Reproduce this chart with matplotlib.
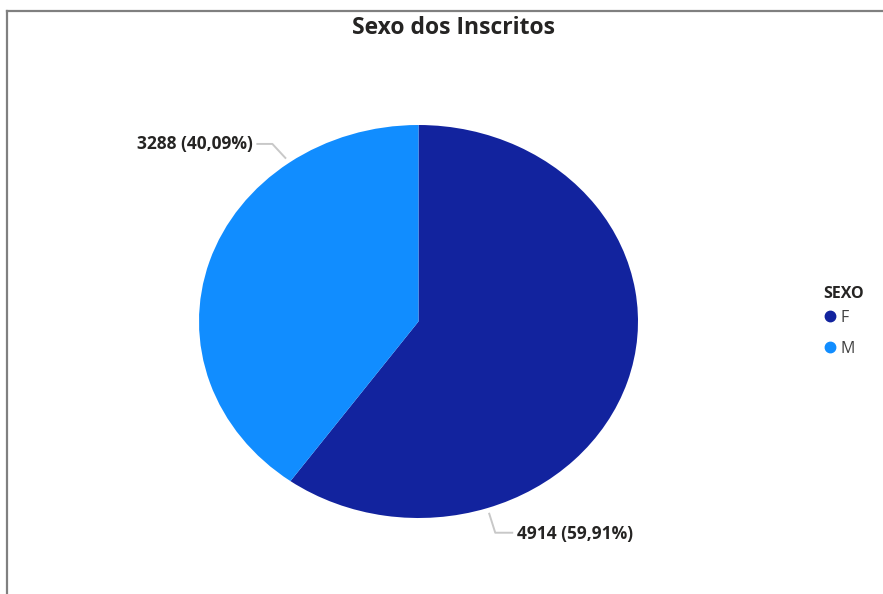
import matplotlib.pyplot as plt
from matplotlib.lines import Line2D
import numpy as np

plt.rcParams['font.family'] = ['Open Sans', 'DejaVu Sans']

# data
sexo = ['F', 'M']
inscritos = [4914, 3288]
cores = ['#12239E', '#118DFF']
titulo = 'Sexo dos Inscritos'
legenda_titulo = 'SEXO'

fig = plt.figure(figsize=(8.83, 5.94), dpi=100)
W, H = 883, 594
# pie box in pixels (the reference pie is stretched, so aspect is auto)
ax = fig.add_axes([199 / W, (H - 518) / H, 439 / W, 393 / H])
wedges, _ = ax.pie(inscritos, colors=cores, startangle=90, counterclock=False,
                   wedgeprops=dict(linewidth=0))
ax.set_aspect('auto')
ax.set_xlim(-1, 1)
ax.set_ylim(-1, 1)

# pixel -> data scale
sx = 2 / 439
sy = 2 / 393

total = sum(inscritos)
# leader offsets in pixels (elbow, end, text) and text alignment
leaders = {
    'F': dict(elbow=(6, -19), end=(23, -19), text=(28, -20), ha='left'),
    'M': dict(elbow=(-13, 14), end=(-28, 14), text=(-32, 14), ha='right'),
}
for w, nome, val in zip(wedges, sexo, inscritos):
    # Power BI puts the leader 3/4 of the way through each slice
    a = np.deg2rad(w.theta1 + 0.25 * (w.theta2 - w.theta1))
    ax0, ay0 = 1.03 * np.cos(a), 1.03 * np.sin(a)
    cfg = leaders[nome]
    xs = [ax0, ax0 + cfg['elbow'][0] * sx, ax0 + cfg['end'][0] * sx]
    ys = [ay0, ay0 + cfg['elbow'][1] * sy, ay0 + cfg['end'][1] * sy]
    ax.plot(xs, ys, color='#C8C8C8', lw=1.4, clip_on=False)
    pct = f'{100 * val / total:.2f}'.replace('.', ',')
    ax.text(ax0 + cfg['text'][0] * sx, ay0 + cfg['text'][1] * sy,
            f'{val} ({pct}%)', ha=cfg['ha'], va='center', fontsize=12.5,
            fontweight='bold', color='#252423', clip_on=False)

fig.text(454 / W, 1 - 28 / H, titulo, ha='center', va='center', fontsize=16.5,
         fontweight='bold', color='#252423')

# legend title drawn apart so the gap above the entries can match
fig.text(823 / W, 1 - 294 / H, legenda_titulo, ha='left', va='center', fontsize=11.5,
         fontweight='bold', color='#252423')
handles = [Line2D([], [], marker='o', ls='', color=c, markersize=7.5) for c in cores]
leg = fig.legend(handles, sexo, loc='upper left', bbox_to_anchor=(817 / W, 1 - 305 / H),
                 frameon=False, handletextpad=0.15,
                 labelspacing=0.95, handlelength=1.0, fontsize=11.5,
                 labelcolor='#404040', borderaxespad=0, borderpad=0.3)

# frame lines of the visual (top and left edges)
fig.add_artist(Line2D([7 / W, 1], [1 - 11 / H, 1 - 11 / H], color='#808080', lw=1.6))
fig.add_artist(Line2D([7 / W, 7 / W], [0, 1 - 11 / H], color='#808080', lw=1.6))

fig.savefig('out.png', dpi=100)
